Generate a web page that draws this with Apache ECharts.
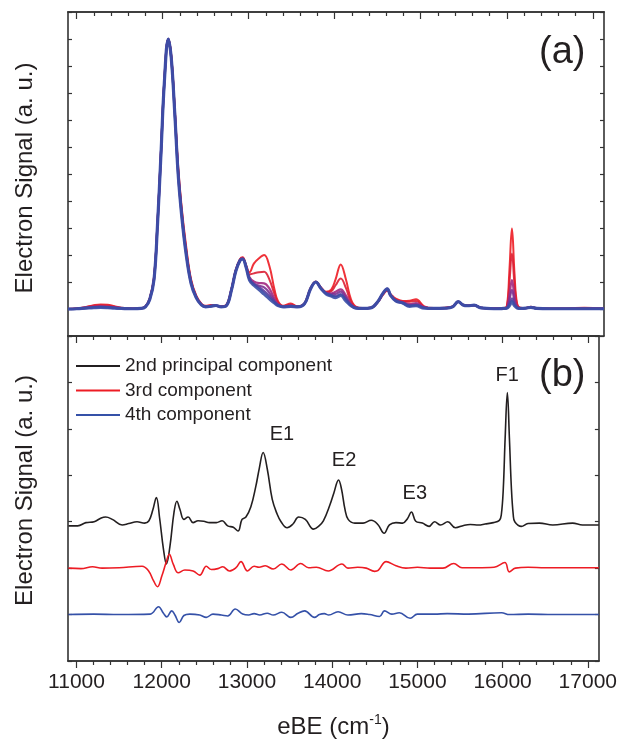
<!DOCTYPE html>
<html>
<head>
<meta charset="utf-8">
<script src="https://cdn.jsdelivr.net/npm/echarts@6/dist/echarts.min.js"></script>
<style>
  html, body { margin: 0; padding: 0; background: #fff; }
  #chart { width: 620px; height: 740px; }
</style>
</head>
<body>
<div id="chart"></div>
<script>
// x range and tick positions (cm-1)
const xMin = 10900, xMax = 17130;
const xMajorTicks = [11000, 12000, 13000, 14000, 15000, 16000, 17000];
const xMinorTicks = [11200, 11400, 11600, 11800, 12200, 12400, 12600, 12800, 13200, 13400, 13600, 13800,
  14200, 14400, 14600, 14800, 15200, 15400, 15600, 15800, 16200, 16400, 16600, 16800];

// (a) spectra, red -> blue, on a shared eBE grid
const topX = [
  10900, 11000, 11100, 11200, 11280, 11360, 11440, 11520, 11650, 11750,
  11800, 11850, 11900, 11940, 11980, 12020, 12066, 12100, 12140, 12180,
  12220, 12270, 12330, 12390, 12450, 12500, 12560, 12620, 12680, 12740,
  12800, 12850, 12900, 12930, 12970, 13010, 13060, 13120, 13180, 13240,
  13300, 13340, 13400, 13490, 13570, 13650, 13720, 13780, 13840, 13900,
  13960, 14010, 14070, 14130, 14190, 14250, 14320, 14420, 14500, 14560,
  14610, 14650, 14710, 14790, 14870, 14945, 15040, 15150, 15280, 15370,
  15435, 15490, 15545, 15620, 15700, 15850, 15960, 16000, 16030, 16060,
  16090, 16120, 16160, 16220, 16280, 16350, 16500, 16700, 16900, 17130];
const spec1 = [
  0, 0.02, 0.07, 0.14, 0.17, 0.16, 0.1, 0.05, 0.02, 0.03,
  0.1, 0.4, 1.2, 3.2, 5.8, 8.5, 10, 9.4, 7.5, 5.3,
  3.8, 2.4, 1.1, 0.5, 0.2, 0.12, 0.15, 0.12, 0.1, 0.15,
  0.75, 1.45, 1.85, 1.92, 1.62, 1.36, 1.68, 1.88, 2.0, 1.6,
  0.72, 0.3, 0.12, 0.2, 0.1, 0.22, 0.78, 1.02, 0.8, 0.64,
  0.72, 1.1, 1.65, 1.1, 0.35, 0.08, 0.04, 0.05, 0.25, 0.52,
  0.68, 0.55, 0.38, 0.3, 0.31, 0.36, 0.1, 0.04, 0.05, 0.1,
  0.27, 0.16, 0.13, 0.14, 0.05, 0.03, 0.04, 0.1, 1.4, 2.98,
  1.3, 0.2, 0.05, 0.04, 0.08, 0.03, 0.02, 0.02, 0.05, 0.02];
const spec2 = [
  0, 0.02, 0.06, 0.12, 0.14, 0.13, 0.08, 0.04, 0.02, 0.03,
  0.1, 0.38, 1.15, 3.15, 5.75, 8.45, 10, 9.35, 7.4, 5.2,
  3.7, 2.3, 1.05, 0.47, 0.18, 0.1, 0.13, 0.12, 0.09, 0.14,
  0.74, 1.43, 1.83, 1.9, 1.6, 1.28, 1.32, 1.36, 1.38, 1.1,
  0.55, 0.25, 0.1, 0.16, 0.09, 0.21, 0.77, 1.01, 0.79, 0.62,
  0.66, 0.88, 1.13, 0.78, 0.26, 0.06, 0.03, 0.05, 0.26, 0.54,
  0.7, 0.53, 0.36, 0.28, 0.27, 0.3, 0.08, 0.03, 0.04, 0.09,
  0.27, 0.16, 0.13, 0.14, 0.05, 0.02, 0.03, 0.08, 0.95, 2.06,
  0.9, 0.15, 0.04, 0.04, 0.07, 0.03, 0.02, 0.02, 0.03, 0.02];
const spec3 = [
  0, 0.01, 0.05, 0.09, 0.1, 0.09, 0.06, 0.03, 0.01, 0.02,
  0.09, 0.37, 1.12, 3.12, 5.72, 8.42, 10, 9.32, 7.35, 5.1,
  3.6, 2.2, 1.0, 0.45, 0.17, 0.09, 0.12, 0.13, 0.09, 0.13,
  0.72, 1.42, 1.82, 1.88, 1.58, 1.18, 1.02, 0.96, 0.95, 0.76,
  0.38, 0.18, 0.09, 0.13, 0.09, 0.2, 0.76, 1.0, 0.78, 0.6,
  0.58, 0.64, 0.73, 0.5, 0.18, 0.05, 0.03, 0.04, 0.26, 0.56,
  0.72, 0.52, 0.33, 0.25, 0.18, 0.22, 0.06, 0.02, 0.03, 0.08,
  0.27, 0.15, 0.12, 0.14, 0.04, 0.02, 0.02, 0.05, 0.5, 1.07,
  0.45, 0.08, 0.03, 0.03, 0.06, 0.02, 0.01, 0.01, 0.02, 0.01];
const spec4 = [
  0, 0.01, 0.04, 0.07, 0.08, 0.07, 0.05, 0.03, 0.01, 0.02,
  0.08, 0.36, 1.11, 3.1, 5.7, 8.4, 10, 9.3, 7.32, 5.05,
  3.55, 2.15, 0.97, 0.43, 0.16, 0.08, 0.11, 0.13, 0.08, 0.12,
  0.71, 1.41, 1.81, 1.86, 1.56, 1.12, 0.95, 0.86, 0.8, 0.6,
  0.3, 0.15, 0.08, 0.11, 0.08, 0.2, 0.75, 1.0, 0.77, 0.58,
  0.54, 0.56, 0.64, 0.42, 0.15, 0.04, 0.02, 0.04, 0.27, 0.57,
  0.74, 0.51, 0.31, 0.23, 0.14, 0.17, 0.05, 0.02, 0.03, 0.08,
  0.27, 0.15, 0.12, 0.14, 0.04, 0.01, 0.02, 0.04, 0.33, 0.7,
  0.3, 0.06, 0.02, 0.03, 0.06, 0.02, 0.01, 0.01, 0.01, 0.01];
const spec5 = [
  0, 0.01, 0.03, 0.06, 0.07, 0.06, 0.04, 0.02, 0.01, 0.02,
  0.08, 0.35, 1.1, 3.1, 5.7, 8.4, 10, 9.3, 7.3, 5.02,
  3.52, 2.12, 0.96, 0.42, 0.15, 0.08, 0.1, 0.13, 0.08, 0.12,
  0.7, 1.4, 1.8, 1.85, 1.55, 1.09, 0.92, 0.8, 0.66, 0.48,
  0.26, 0.14, 0.08, 0.1, 0.08, 0.2, 0.75, 1.0, 0.76, 0.57,
  0.5, 0.48, 0.55, 0.36, 0.13, 0.03, 0.02, 0.04, 0.27, 0.58,
  0.75, 0.5, 0.3, 0.22, 0.12, 0.14, 0.04, 0.02, 0.03, 0.08,
  0.27, 0.15, 0.12, 0.14, 0.04, 0.01, 0.02, 0.03, 0.18, 0.39,
  0.17, 0.05, 0.02, 0.03, 0.06, 0.02, 0.01, 0.01, 0.01, 0.01];
const spec6 = [
  0, 0.01, 0.03, 0.05, 0.06, 0.05, 0.03, 0.02, 0.01, 0.02,
  0.08, 0.35, 1.1, 3.1, 5.7, 8.4, 10, 9.3, 7.3, 5.0,
  3.5, 2.1, 0.95, 0.42, 0.15, 0.08, 0.1, 0.13, 0.08, 0.12,
  0.7, 1.4, 1.8, 1.85, 1.55, 1.07, 0.88, 0.72, 0.55, 0.38,
  0.22, 0.13, 0.08, 0.1, 0.08, 0.2, 0.75, 1.0, 0.76, 0.56,
  0.48, 0.42, 0.5, 0.3, 0.12, 0.03, 0.02, 0.04, 0.27, 0.58,
  0.75, 0.5, 0.3, 0.22, 0.1, 0.12, 0.03, 0.02, 0.03, 0.08,
  0.27, 0.15, 0.12, 0.14, 0.04, 0.01, 0.02, 0.03, 0.12, 0.27,
  0.12, 0.04, 0.02, 0.03, 0.06, 0.02, 0.01, 0.01, 0.01, 0.01];
const topSpectra = [spec1, spec2, spec3, spec4, spec5, spec6];
const topColors = ['#ed1c24', '#dc1f34', '#a2287f', '#7d3191', '#5b3e9e', '#3a4ea6'];
const topWidths = [2, 2, 2.2, 2.2, 2.4, 3.2];

// (b) principal components (offset traces)
const pc2X = [10905, 11014, 11110, 11207, 11290, 11342, 11420, 11536, 11613, 11710, 11800, 11850, 11895, 11937, 11975,
  12020, 12055, 12097, 12144, 12178, 12213, 12260, 12310, 12368, 12426, 12492, 12562, 12640, 12709, 12774, 12840,
  12895, 12942, 12988, 13046, 13104, 13145, 13190, 13239, 13297, 13355, 13400, 13471, 13540, 13607, 13685, 13781,
  13840, 13897, 13975, 14020, 14075, 14110, 14150, 14188, 14266, 14362, 14459, 14536, 14610, 14672, 14749, 14827,
  14885, 14930, 14981, 15059, 15137, 15202, 15272, 15357, 15446, 15543, 15620, 15718, 15794, 15892, 15962, 15985,
  16008, 16030, 16056, 16080, 16104, 16125, 16143, 16220, 16298, 16433, 16589, 16822, 16938, 17130];
const pc2Y = [2.91, 2.91, 2.98, 3.00, 3.08, 3.10, 3.05, 2.93, 2.96, 3.00, 2.97, 3.02, 3.25, 3.52, 3.08,
  2.41, 2.09, 2.48, 3.20, 3.44, 3.27, 3.05, 3.10, 2.98, 3.02, 3.01, 2.98, 2.98, 3.02, 2.91, 2.88,
  2.80, 3.05, 3.10, 3.32, 3.76, 4.15, 4.49, 4.13, 3.48, 3.16, 3.00, 2.87, 2.95, 3.10, 3.05, 2.84,
  2.90, 3.02, 3.37, 3.62, 3.90, 3.70, 3.27, 3.05, 2.97, 2.97, 3.03, 2.94, 2.75, 2.93, 2.98, 2.97,
  3.07, 3.21, 3.01, 2.97, 2.90, 3.00, 2.93, 3.00, 2.87, 2.92, 2.94, 2.93, 2.95, 2.98, 3.03, 3.15,
  3.70, 4.80, 5.78, 4.80, 3.70, 3.15, 3.00, 2.90, 2.96, 2.97, 2.93, 2.97, 2.93, 2.93];

const pc3X = [10905, 11052, 11188, 11300, 11500, 11769, 11846, 11903, 11950, 12001, 12051, 12089, 12136, 12194, 12271,
  12368, 12446, 12523, 12582, 12659, 12716, 12794, 12871, 12930, 13007, 13084, 13142, 13215, 13308, 13409, 13515,
  13630, 13723, 13815, 13954, 14115, 14185, 14300, 14400, 14498, 14540, 14633, 14749, 14865, 15001, 15150, 15300,
  15427, 15524, 15700, 15900, 16027, 16078, 16150, 16300, 16500, 16800, 17130];
const pc3Y = [2.00, 1.99, 2.03, 2.00, 2.01, 2.04, 1.94, 1.73, 1.60, 1.83, 2.12, 2.30, 2.08, 1.90, 1.96,
  1.94, 1.85, 2.04, 1.97, 1.99, 2.03, 1.94, 2.01, 2.14, 1.94, 2.04, 2.02, 2.05, 1.98, 2.09, 1.96,
  2.10, 2.01, 2.02, 1.94, 2.09, 2.00, 2.02, 2.00, 1.93, 1.95, 2.14, 2.05, 2.00, 2.02, 2.00, 2.00,
  2.10, 2.01, 2.01, 2.02, 2.12, 1.92, 2.00, 2.02, 2.01, 2.01, 2.01];

const pc4X = [10905, 11200, 11500, 11865, 11962, 12020, 12059, 12117, 12155, 12205, 12260, 12330, 12446, 12523,
  12601, 12700, 12774, 12863, 12950, 13020, 13084, 13150, 13238, 13308, 13409, 13515, 13600, 13677, 13792, 13850,
  13908, 13960, 14069, 14185, 14342, 14440, 14556, 14614, 14700, 14788, 14916, 15000, 15200, 15350, 15600, 15988,
  16080, 16300, 16600, 17130];
const pc4Y = [1.00, 1.01, 1.00, 1.01, 1.17, 1.03, 0.95, 1.08, 0.99, 0.83, 0.98, 1.01, 0.99, 0.94,
  1.01, 0.99, 0.97, 1.12, 1.01, 0.99, 1.02, 0.99, 1.03, 0.99, 1.05, 0.94, 1.03, 1.08, 0.94, 1.00,
  1.02, 0.99, 1.06, 0.99, 1.02, 1.00, 0.96, 1.08, 1.01, 1.04, 0.92, 1.01, 1.01, 1.02, 1.01, 1.04,
  1.00, 1.01, 1.00, 1.00];

// peak annotations in panel (b)
const peakNames = ['E1', 'E2', 'E3', 'F1'];
const peakLabelX = [13410, 14140, 14970, 16055];
const peakLabelY = [4.87, 4.32, 3.61, 6.15];

const font = 'Liberation Sans, Arial, Helvetica, sans-serif';
const ink = '#231f20';
const frame = '#333333';
const smoothness = 0.4;

function pairs(xs, ys) {
  return xs.map((x, i) => [x, ys[i]]);
}

function xAxisDef(grid, pos, ticks, len, inside, withLabels) {
  return {
    type: 'value', gridIndex: grid, position: pos, min: xMin, max: xMax,
    axisLine: { show: true, onZero: false, lineStyle: { color: frame, width: 1.6 } },
    axisTick: ticks ? { show: true, inside: inside, length: len, customValues: ticks, lineStyle: { color: frame, width: 1.2 } } : { show: false },
    axisLabel: withLabels ? {
      show: true, customValues: xMajorTicks, margin: 11, fontFamily: font, fontSize: 21, color: ink,
      formatter: v => String(v)
    } : { show: false },
    splitLine: { show: false }
  };
}

function yAxisDef(grid, pos, min, max, name, namePad) {
  return {
    type: 'value', gridIndex: grid, position: pos, min: min, max: max, interval: 1,
    axisLine: { show: true, onZero: false, lineStyle: { color: frame, width: 1.6 } },
    axisTick: { show: true, inside: true, length: 4, lineStyle: { color: frame, width: 1.2 } },
    axisLabel: { show: false },
    splitLine: { show: false },
    name: name || '', nameLocation: 'middle', nameGap: 31,
    nameTextStyle: { fontFamily: font, fontSize: 24, color: ink, padding: namePad || 0 }
  };
}

const series = [];
topSpectra.forEach((ys, i) => {
  series.push({
    name: 'spectrum ' + (i + 1), type: 'line', xAxisIndex: 0, yAxisIndex: 0,
    data: pairs(topX, ys), showSymbol: false, symbol: 'none', smooth: smoothness,
    color: topColors[i], lineStyle: { color: topColors[i], width: topWidths[i], opacity: 0.9 }
  });
});
series.push({
  name: '2nd principal component', type: 'line', xAxisIndex: 5, yAxisIndex: 2,
  data: pairs(pc2X, pc2Y), symbol: 'none', smooth: smoothness,
  color: ink, lineStyle: { color: ink, width: 1.6 },
  markPoint: {
    symbol: 'circle', symbolSize: 0, silent: true, animation: false,
    label: { show: true, position: 'inside', formatter: '{b}', fontFamily: font, fontSize: 20, color: ink },
    data: peakNames.map((n, i) => ({ name: n, coord: [peakLabelX[i], peakLabelY[i]] }))
  }
});
series.push({
  name: '3rd component', type: 'line', xAxisIndex: 5, yAxisIndex: 2,
  data: pairs(pc3X, pc3Y), symbol: 'none', smooth: smoothness,
  color: '#ed1c24', lineStyle: { color: '#ed1c24', width: 1.6 }
});
series.push({
  name: '4th component', type: 'line', xAxisIndex: 5, yAxisIndex: 2,
  data: pairs(pc4X, pc4Y), symbol: 'none', smooth: smoothness,
  color: '#3551a8', lineStyle: { color: '#3551a8', width: 1.6 }
});

const chart = echarts.init(document.getElementById('chart'), null, { renderer: 'canvas' });
chart.setOption({
  backgroundColor: '#ffffff',
  animation: false,
  grid: [
    { left: 68, right: 16, top: 12, height: 324 },
    { left: 68, right: 16, top: 336, height: 326 }
  ],
  xAxis: [
    xAxisDef(0, 'bottom', null, 0, true, false),
    xAxisDef(0, 'top', xMajorTicks, 7, true, false),
    xAxisDef(0, 'top', xMinorTicks, 4, true, false),
    xAxisDef(1, 'top', xMajorTicks, 7, true, false),
    xAxisDef(1, 'top', xMinorTicks, 4, true, false),
    Object.assign(xAxisDef(1, 'bottom', xMajorTicks, 7, false, true), {
      name: '{a|eBE (cm}{s|-1}{a|)}', nameLocation: 'middle', nameGap: 52,
      nameTextStyle: {
        rich: {
          a: { fontFamily: font, fontSize: 24, color: ink, lineHeight: 26, verticalAlign: 'bottom' },
          s: { fontFamily: font, fontSize: 14, color: ink, lineHeight: 26, verticalAlign: 'top' }
        }
      }
    }),
    xAxisDef(1, 'bottom', xMinorTicks, 4, false, false)
  ],
  yAxis: [
    yAxisDef(0, 'left', -1, 11, 'Electron Signal (a. u.)', [0, 8, 0, 0]),
    yAxisDef(0, 'right', -1, 11),
    yAxisDef(1, 'left', 0, 7, 'Electron Signal (a. u.)', [0, 0, 0, 16]),
    yAxisDef(1, 'right', 0, 7)
  ],
  legend: {
    data: ['2nd principal component', '3rd component', '4th component'],
    orient: 'vertical', left: 71, top: 351,
    itemWidth: 44, itemHeight: 2, itemGap: 4.5, icon: 'rect', selectedMode: false,
    textStyle: { fontFamily: font, fontSize: 19, color: ink, lineHeight: 20 }
  },
  graphic: [
    { type: 'text', left: 539, top: 34, style: { text: '(a)', font: '38px ' + font, fill: ink } },
    { type: 'text', left: 539, top: 357, style: { text: '(b)', font: '38px ' + font, fill: ink } }
  ],
  series: series
});
</script>
</body>
</html>
